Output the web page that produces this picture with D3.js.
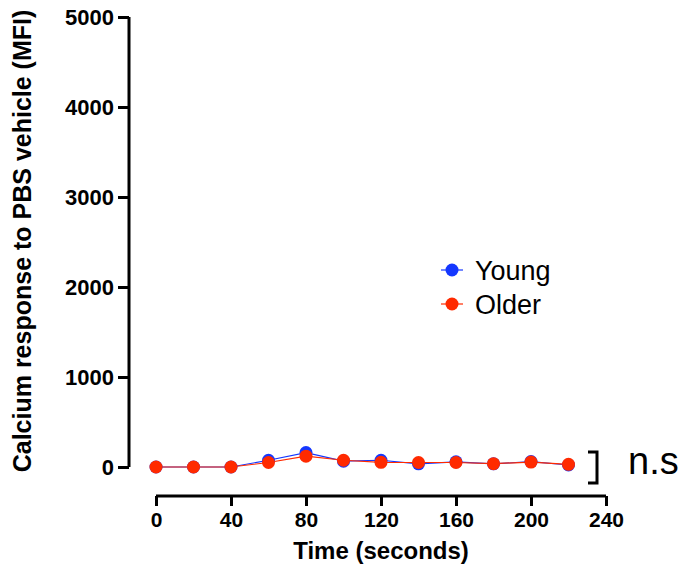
<!DOCTYPE html>
<html>
<head>
<meta charset="utf-8">
<script src="https://cdn.jsdelivr.net/npm/d3@7"></script>
<style>
  body { margin: 0; background: #fff; }
  svg { font-family: "Liberation Sans", Arial, sans-serif; }
</style>
</head>
<body>
<svg width="683" height="573"></svg>
<script>
// values
let times = [0, 20, 40, 60, 80, 100, 120, 140, 160, 180, 200, 220];
let young = [0, 0, 0, 75, 160, 65, 75, 35, 58, 35, 60, 22];
let older = [0, 0, 0, 50, 120, 75, 52, 50, 50, 37, 55, 30];
let xTicks = [0, 40, 80, 120, 160, 200, 240];
let yTicks = [0, 1000, 2000, 3000, 4000, 5000];
let seriesNames = ["Young", "Older"];
let colors = ["#1437ff", "#ff2a00"];

let svg = d3.select("svg");

let x = d3.scaleLinear().domain([0, 240]).range([156, 606]);
let y = d3.scaleLinear().domain([0, 5000]).range([467, 17]);

// y axis (offset to the left, Prism style)
let yAxis = svg.append("g")
    .attr("transform", "translate(129,0)")
    .call(d3.axisLeft(y).tickValues(yTicks).tickFormat(d3.format("d")).tickSize(11).tickPadding(4));

// x axis (offset below)
let xAxis = svg.append("g")
    .attr("transform", "translate(0,496)")
    .call(d3.axisBottom(x).tickValues(xTicks).tickSize(10).tickPadding(6));

[yAxis, xAxis].forEach(function (a) {
    a.select(".domain").attr("stroke", "#000").attr("stroke-width", 3);
    a.selectAll(".tick line").attr("stroke", "#000").attr("stroke-width", 3);
    a.selectAll(".tick text")
        .attr("font-family", "Liberation Sans, Arial, sans-serif")
        .attr("font-size", 22)
        .attr("font-weight", "bold")
        .attr("fill", "#000");
});
xAxis.selectAll(".tick text").attr("font-size", 21);
// drop the outer end caps of the domain paths
yAxis.select(".domain").attr("d", "M0," + y(0) + "V" + y(5000));
xAxis.select(".domain").attr("d", "M" + x(0) + ",0H" + x(240));

// axis titles
svg.append("text")
    .attr("transform", "translate(31,241) rotate(-90)")
    .attr("text-anchor", "middle")
    .attr("font-size", 25)
    .attr("font-weight", "bold")
    .text("Calcium response to PBS vehicle (MFI)");

svg.append("text")
    .attr("x", 381)
    .attr("y", 559)
    .attr("text-anchor", "middle")
    .attr("font-size", 24)
    .attr("font-weight", "bold")
    .text("Time (seconds)");

// series
let data = [young, older];
let line = d3.line()
    .x(function (d, i) { return x(times[i]); })
    .y(function (d) { return y(d); });

data.forEach(function (vals, k) {
    svg.append("path")
        .datum(vals)
        .attr("fill", "none")
        .attr("stroke", colors[k])
        .attr("stroke-width", 1.2)
        .attr("d", line);
});
data.forEach(function (vals, k) {
    svg.append("g").selectAll("circle")
        .data(vals)
        .enter().append("circle")
        .attr("cx", function (d, i) { return x(times[i]); })
        .attr("cy", function (d) { return y(d); })
        .attr("r", 6.5)
        .attr("fill", colors[k]);
});

// legend
let legend = svg.append("g")
    .selectAll("g")
    .data(seriesNames)
    .enter().append("g")
    .attr("transform", function (d, i) {
        return "translate(452," + (270 + i * 34) + ")";
    });
legend.append("line")
    .attr("x1", -11).attr("x2", 11)
    .attr("stroke", function (d, i) { return colors[i]; })
    .attr("stroke-width", 1.2);
legend.append("circle")
    .attr("r", 6.5)
    .attr("fill", function (d, i) { return colors[i]; });
legend.append("text")
    .attr("x", 23)
    .attr("dy", "0.36em")
    .attr("font-size", 27)
    .text(function (d) { return d; });

// significance bracket
svg.append("path")
    .attr("d", "M588,452H597V483H588")
    .attr("fill", "none")
    .attr("stroke", "#000")
    .attr("stroke-width", 3);
svg.append("text")
    .attr("x", 628)
    .attr("y", 474)
    .attr("font-size", 38)
    .text("n.s");
</script>
</body>
</html>
